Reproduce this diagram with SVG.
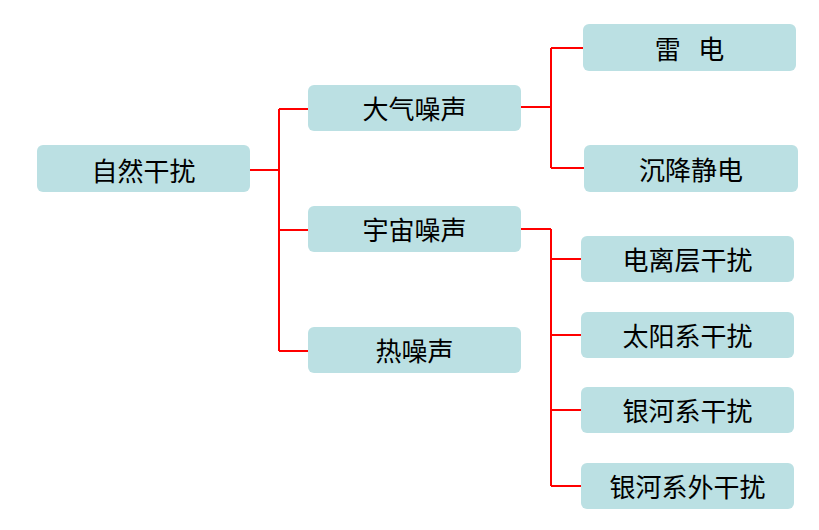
<svg xmlns="http://www.w3.org/2000/svg" width="819" height="530" viewBox="0 0 819 530">
<style>
.n rect{fill:#BBE0E3;}
.n text{font-family:"Noto Sans CJK SC","Noto Sans",sans-serif;font-size:26px;fill:#000;text-anchor:middle;dominant-baseline:central;}
.c{stroke:#FF0000;stroke-width:2;fill:none;}
</style>
<rect width="819" height="530" fill="#fff"/>
<g id="connectors">
<path class="c" d="M250 170H279M279 109V351M279 109H308M279 230H308M279 351H308"/>
<path class="c" d="M521 107H551M551 48V168M551 48H583M551 168H584"/>
<path class="c" d="M521 229H551M551 229V486M551 259H581M551 335H581M551 410H581M551 486H581"/>
</g>
<g id="n1" class="n"><rect x="37" y="145" width="213" height="47" rx="6"/><text x="143.5" y="169">自然干扰</text></g>
<g id="n2" class="n"><rect x="308" y="85" width="213" height="46" rx="6"/><text x="414.5" y="107">大气噪声</text></g>
<g id="n3" class="n"><rect x="308" y="206" width="213" height="46" rx="6"/><text x="414.5" y="228">宇宙噪声</text></g>
<g id="n4" class="n"><rect x="308" y="327" width="213" height="46" rx="6"/><text x="414.5" y="349">热噪声</text></g>
<g id="n5" class="n"><rect x="583" y="24" width="213" height="47" rx="6"/><text x="689.5" y="47" xml:space="preserve" style="white-space:pre">雷   电</text></g>
<g id="n6" class="n"><rect x="584" y="145" width="214" height="47" rx="6"/><text x="691" y="168">沉降静电</text></g>
<g id="n7" class="n"><rect x="581" y="236" width="213" height="46" rx="6"/><text x="687.5" y="258">电离层干扰</text></g>
<g id="n8" class="n"><rect x="581" y="312" width="213" height="46" rx="6"/><text x="687.5" y="334">太阳系干扰</text></g>
<g id="n9" class="n"><rect x="581" y="387" width="213" height="46" rx="6"/><text x="687.5" y="409">银河系干扰</text></g>
<g id="n10" class="n"><rect x="581" y="463" width="213" height="46" rx="6"/><text x="687.5" y="485">银河系外干扰</text></g>
</svg>
